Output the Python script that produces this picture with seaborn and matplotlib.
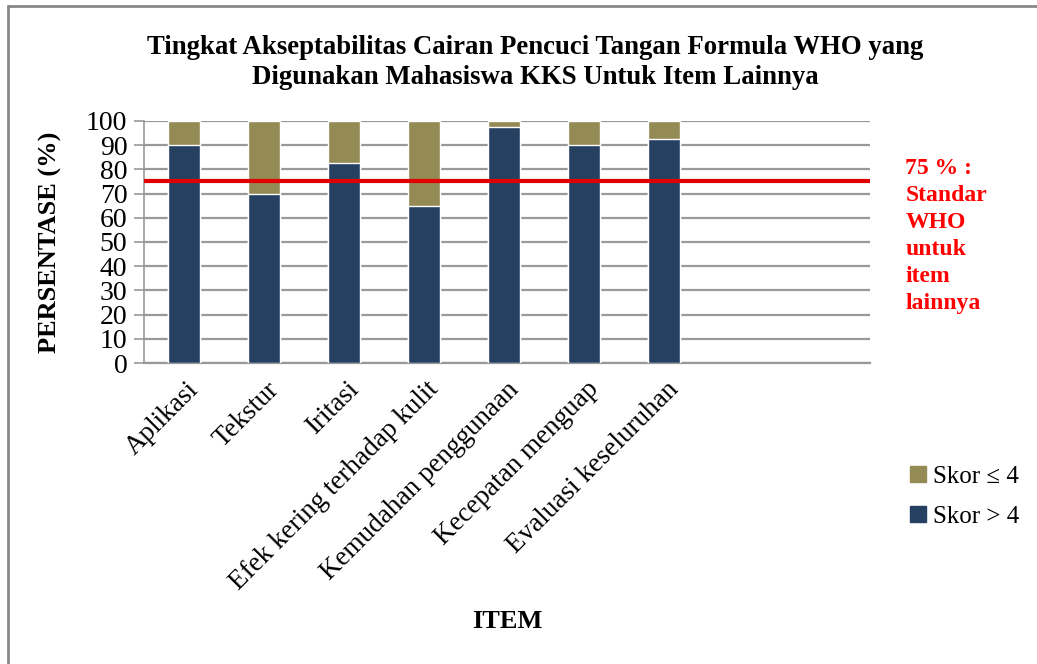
import matplotlib
matplotlib.use("Agg")
import matplotlib.pyplot as plt
import matplotlib.lines as mlines
import matplotlib.transforms as mtransforms
import seaborn as sns
import pandas as pd

# data
items = ["Aplikasi", "Tekstur", "Iritasi", "Efek kering terhadap kulit",
         "Kemudahan penggunaan", "Kecepatan menguap", "Evaluasi keseluruhan"]
skor_gt4 = [90, 70, 82.5, 65, 97.5, 90, 92.5]
skor_le4 = [10, 30, 17.5, 35, 2.5, 10, 7.5]
standar = 75

navy = "#264062"
olive = "#948A54"

sns.set_theme(style="white")
plt.rcParams["font.family"] = ["Liberation Serif", "DejaVu Serif"]
plt.rcParams["text.color"] = "black"
plt.rcParams["axes.labelcolor"] = "black"
plt.rcParams["xtick.color"] = "black"
plt.rcParams["ytick.color"] = "black"

df = pd.DataFrame({"item": items, "gt4": skor_gt4, "le4": skor_le4})
df["total"] = df["gt4"] + df["le4"]

fig = plt.figure(figsize=(10.37, 6.64), dpi=100)
ax = fig.add_axes([0.1389, 0.4533, 0.700, 0.3645])

sns.barplot(data=df, x="item", y="total", color=olive, width=0.4,
            saturation=1, ax=ax, zorder=3)
sns.barplot(data=df, x="item", y="gt4", color=navy, width=0.4,
            saturation=1, ax=ax, zorder=3)

xmax = 8.575
ax.set_xlim(-0.5, xmax)
ax.set_ylim(0, 100)
ax.set_yticks(range(0, 101, 10))
ax.yaxis.grid(True, color="#999999", lw=1.6, zorder=0)
ax.tick_params(axis="y", which="both", left=True, length=7, width=1.2,
               color="#999999", labelcolor="black", labelsize=20, pad=5,
               direction="out")
ax.tick_params(axis="x", length=0, labelsize=19.5, pad=10, labelcolor="black")
for s in ["top", "right"]:
    ax.spines[s].set_visible(False)
ax.spines["left"].set_color("#999999")
ax.spines["left"].set_linewidth(1.2)
ax.spines["bottom"].set_color("#999999")
ax.spines["bottom"].set_linewidth(1.6)
ax.set_xticks(range(len(items)))
ax.set_xticklabels(items, rotation=45, ha="right", rotation_mode="anchor")
shift = mtransforms.ScaledTranslation(2 / 100, 0, fig.dpi_scale_trans)
for lab in ax.get_xticklabels():
    lab.set_transform(lab.get_transform() + shift)

# standard line
ax.plot([-0.5, xmax], [standar, standar], color="#E00000", lw=3, zorder=4,
        solid_capstyle="butt")

ax.set_xlabel("ITEM", fontsize=19, fontweight="bold")
ax.xaxis.set_label_coords(0.50, -1.02)
ax.set_ylabel("PERSENTASE (%)", fontsize=19, fontweight="bold")
ax.yaxis.set_label_coords(-0.113, 0.5)

fig.text(0.516, 0.906, "Tingkat Akseptabilitas Cairan Pencuci Tangan Formula WHO yang\n"
         "Digunakan Mahasiswa KKS Untuk Item Lainnya",
         ha="center", va="center", fontsize=19.3, fontweight="bold",
         linespacing=1.3)

fig.text(0.873, 0.762, "75 % :\nStandar\nWHO\nuntuk\nitem\nlainnya",
         ha="left", va="top", fontsize=17, fontweight="bold", color="#FF0000",
         linespacing=1.37)

h1 = mlines.Line2D([], [], marker="s", ls="", color=olive, markersize=11)
h2 = mlines.Line2D([], [], marker="s", ls="", color=navy, markersize=11)
fig.legend([h1, h2], ["Skor \u2264 4", "Skor > 4"], loc="center left",
           bbox_to_anchor=(0.876, 0.252), frameon=False, fontsize=18,
           handletextpad=0.2, labelspacing=0.7, handlelength=0.8,
           borderpad=0, borderaxespad=0)

# frame of the chart area (left and top edges)
fig.add_artist(mlines.Line2D([0.008, 0.008], [0, 0.991], color="#888888",
                             lw=2, transform=fig.transFigure))
fig.add_artist(mlines.Line2D([0.008, 1], [0.991, 0.991], color="#888888",
                             lw=2, transform=fig.transFigure))

fig.savefig("out.png", dpi=100)
